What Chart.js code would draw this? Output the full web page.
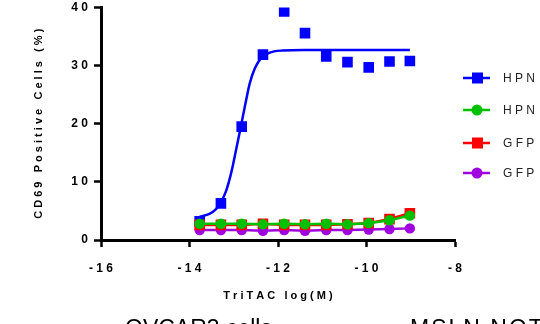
<!DOCTYPE html>
<html>
<head>
<meta charset="utf-8">
<script src="https://cdn.jsdelivr.net/npm/chart.js@4/dist/chart.umd.min.js"></script>
<style>
  html, body { margin: 0; padding: 0; background: #fff; overflow: hidden; }
  #wrap { width: 540px; height: 324px; overflow: hidden; }
</style>
</head>
<body>
<div id="wrap"><canvas id="cd69Chart" width="540" height="350"></canvas></div>
<script>
// log concentration of TriTAC (3-fold dilutions)
const logConc = [-13.77, -13.29, -12.82, -12.34, -11.86, -11.39, -10.91, -10.43, -9.95, -9.48, -9.02];

// % CD69 positive cells
const hpnA = [3.2, 6.3, 19.5, 31.9, 39.3, 35.6, 31.6, 30.6, 29.7, 30.7, 30.8];
const hpnB = [2.8, 2.8, 2.8, 2.7, 2.8, 2.7, 2.8, 2.7, 2.9, 3.4, 4.2];
const gfpA = [2.6, 2.6, 2.6, 2.8, 2.6, 2.6, 2.6, 2.7, 2.9, 3.6, 4.6];
const gfpB = [1.7, 1.7, 1.7, 1.6, 1.7, 1.6, 1.7, 1.7, 1.8, 1.9, 2.0];

// fitted curve for the first series
const fitX = [-13.77, -13.55, -13.40, -13.29, -13.17, -13.05, -12.94, -12.84, -12.74, -12.64, -12.52, -12.38, -12.2, -11.9, -11.4, -9.02];
const fitY = [4.0, 4.5, 5.3, 6.5, 8.5, 11.8, 15.8, 19.5, 23.3, 26.9, 29.6, 31.3, 32.2, 32.6, 32.7, 32.7];

const xTicks = [-16, -14, -12, -10, -8];
const yTicks = [0, 10, 20, 30, 40];

const legendNames = ['H P N', 'H P N', 'G F P', 'G F P'];
const colors = ['#0000ff', '#00c000', '#ff0000', '#a000e0'];
const markers = ['rect', 'circle', 'rect', 'circle'];

function pts(ys) {
    return logConc.map((x, i) => ({ x: x, y: ys[i] }));
}

function spaced(v) {
    return String(v).split('').join(' ');
}

// legend drawn at right, like the prism export
const sideLegend = {
    id: 'sideLegend',
    afterDraw(chart) {
        const ctx = chart.ctx;
        const rows = [78, 110, 143, 173];
        ctx.save();
        rows.forEach((y, i) => {
            ctx.strokeStyle = colors[i];
            ctx.lineWidth = 2.5;
            ctx.beginPath();
            ctx.moveTo(463, y);
            ctx.lineTo(490, y);
            ctx.stroke();
            ctx.fillStyle = colors[i];
            if (markers[i] === 'rect') {
                ctx.fillRect(472, y - 5.5, 11, 11);
            } else {
                ctx.beginPath();
                ctx.arc(477, y, 5.5, 0, Math.PI * 2);
                ctx.fill();
            }
            ctx.fillStyle = '#222';
            ctx.font = '12px "Liberation Sans", Arial, sans-serif';
            ctx.textBaseline = 'middle';
            ctx.fillText(legendNames[i], 503, y + 1);
        });
        // big title under the plot, cut off by the window edge
        ctx.fillStyle = '#000';
        ctx.font = '23px "Liberation Sans", Arial, sans-serif';
        ctx.textBaseline = 'alphabetic';
        ctx.fillText('OVCAR3 cells', 125, 336);
        ctx.letterSpacing = '2px';
        ctx.fillText('MSLN NOT', 410, 336);
        ctx.restore();
    }
};

const ctx = document.getElementById('cd69Chart').getContext('2d');

const lineOpts = (i) => ({
    borderColor: colors[i],
    backgroundColor: colors[i],
    pointStyle: markers[i],
    pointRadius: markers[i] === 'rect' ? 7.5 : 5.2,
    pointBorderWidth: 0,
    borderWidth: 2.5,
});

const fontFam = '"Liberation Sans", Arial, sans-serif';

new Chart(ctx, {
    type: 'scatter',
    data: {
        datasets: [
            Object.assign({ label: 'HPN b', data: pts(hpnB), showLine: true, order: 1 }, lineOpts(1)),
            Object.assign({ label: 'GFP a', data: pts(gfpA), showLine: true, order: 2 }, lineOpts(2)),
            Object.assign({ label: 'GFP b', data: pts(gfpB), showLine: true, order: 3 }, lineOpts(3)),
            Object.assign({ label: 'HPN a', data: pts(hpnA), showLine: false, order: 4 }, lineOpts(0)),
            {
                label: 'HPN a fit',
                data: fitX.map((x, i) => ({ x: x, y: fitY[i] })),
                showLine: true,
                borderColor: colors[0],
                borderWidth: 2.5,
                pointRadius: 0,
                cubicInterpolationMode: 'monotone',
                order: 5
            }
        ]
    },
    options: {
        responsive: false,
        animation: false,
        layout: { padding: { left: 0, top: 1, right: 85, bottom: 0 } },
        plugins: {
            legend: { display: false },
            tooltip: { enabled: false }
        },
        scales: {
            x: {
                type: 'linear',
                min: -16,
                max: -8,
                afterBuildTicks: (scale) => { scale.ticks = xTicks.map(v => ({ value: v })); },
                afterFit: (scale) => { scale.height = 110; scale.paddingRight = 0; },
                grid: { display: true, drawOnChartArea: false, drawTicks: true, tickLength: 7, tickWidth: 2.5, tickColor: '#000' },
                border: { display: true, color: '#000', width: 3 },
                ticks: {
                    color: '#000',
                    padding: 14,
                    maxRotation: 0,
                    font: { family: fontFam, size: 12, weight: 'bold' },
                    callback: (v) => spaced(v)
                },
                title: {
                    display: true,
                    text: 'T r i T A C   l o g ( M )',
                    color: '#000',
                    padding: { top: 0, bottom: 47 },
                    font: { family: fontFam, size: 11, weight: 'bold' }
                }
            },
            y: {
                type: 'linear',
                min: 0,
                max: 40,
                afterBuildTicks: (scale) => { scale.ticks = yTicks.map(v => ({ value: v })); },
                afterFit: (scale) => { scale.width = 101; scale.paddingTop = 0; },
                grid: { display: true, drawOnChartArea: false, drawTicks: true, tickLength: 7, tickWidth: 2.5, tickColor: '#000' },
                border: { display: true, color: '#000', width: 3 },
                ticks: {
                    color: '#000',
                    padding: 6,
                    font: { family: fontFam, size: 12, weight: 'bold' },
                    callback: (v) => spaced(v)
                },
                title: {
                    display: true,
                    text: 'C D 6 9   P o s i t i v e   C e l l s   ( % )',
                    color: '#000',
                    padding: { top: 32, bottom: 0 },
                    font: { family: fontFam, size: 11, weight: 'bold' }
                }
            }
        }
    },
    plugins: [sideLegend]
});
</script>
</body>
</html>
